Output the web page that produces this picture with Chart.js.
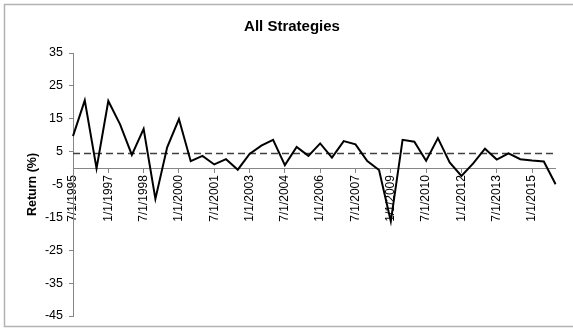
<!DOCTYPE html>
<html>
<head>
<meta charset="utf-8">
<script src="https://cdn.jsdelivr.net/npm/chart.js@4.4.1/dist/chart.umd.min.js"></script>
<style>
  html, body { margin: 0; padding: 0; background: #fff; }
  #wrap { position: relative; width: 573px; height: 333px; }
</style>
</head>
<body>
<div id="wrap"><canvas id="chart"></canvas></div>
<script>
// semi-annual observations, one label shown every 18 months
const dates = [
  '7/1/1995', '1/1/1996', '7/1/1996', '1/1/1997', '7/1/1997', '1/1/1998',
  '7/1/1998', '1/1/1999', '7/1/1999', '1/1/2000', '7/1/2000', '1/1/2001',
  '7/1/2001', '1/1/2002', '7/1/2002', '1/1/2003', '7/1/2003', '1/1/2004',
  '7/1/2004', '1/1/2005', '7/1/2005', '1/1/2006', '7/1/2006', '1/1/2007',
  '7/1/2007', '1/1/2008', '7/1/2008', '1/1/2009', '7/1/2009', '1/1/2010',
  '7/1/2010', '1/1/2011', '7/1/2011', '1/1/2012', '7/1/2012', '1/1/2013',
  '7/1/2013', '1/1/2014', '7/1/2014', '1/1/2015', '7/1/2015', '1/1/2016'
];
const returns = [
  9.7, 20.6, -0.1, 20.4, 13.3, 4.0, 11.9, -9.4, 6.3, 14.9, 2.1, 3.7,
  1.1, 2.7, -0.5, 4.3, 6.8, 8.6, 0.9, 6.4, 3.7, 7.5, 3.2, 8.2,
  7.2, 2.1, -0.6, -16.2, 8.6, 8.0, 2.2, 9.1, 1.7, -2.4, 1.4, 5.9,
  2.6, 4.5, 2.7, 2.3, 2.0, -4.9
];
const averageReturn = 4.45;
const yTicks = [-45, -35, -25, -15, -5, 5, 15, 25, 35];
const chartTitle = 'All Strategies';

const FONT = "'Liberation Sans', Arial, sans-serif";
const AXIS = '#868686';

// white background, outer frame and the chart heading
const frame = {
  id: 'frame',
  beforeDraw(chart) {
    const ctx = chart.ctx;
    ctx.save();
    ctx.fillStyle = '#fff';
    ctx.fillRect(0, 0, chart.width, chart.height);
    ctx.strokeStyle = '#b3b3b3';
    ctx.lineWidth = 1.5;
    ctx.strokeRect(4.5, 4.5, 600, 322);
    ctx.restore();
  },
  afterDraw(chart) {
    const ctx = chart.ctx;
    ctx.save();
    ctx.fillStyle = '#000';
    ctx.font = 'bold 15px ' + FONT;
    ctx.textAlign = 'center';
    ctx.textBaseline = 'middle';
    ctx.fillText(chartTitle, 292, 27);
    ctx.restore();
  }
};

new Chart(document.getElementById('chart'), {
  type: 'line',
  data: {
    labels: dates,
    datasets: [
      {
        label: 'Return',
        data: returns,
        borderColor: '#000',
        borderWidth: 2,
        pointRadius: 0,
        tension: 0,
        fill: false
      },
      {
        label: 'Average',
        data: dates.map(() => averageReturn),
        borderColor: '#404040',
        borderWidth: 1.5,
        borderDash: [7, 4],
        pointRadius: 0,
        fill: false
      }
    ]
  },
  options: {
    responsive: true,
    maintainAspectRatio: false,
    animation: false,
    layout: { padding: { top: 53, right: 11, bottom: 17, left: 0 } },
    plugins: {
      legend: { display: false },
      tooltip: { enabled: false },
      title: { display: false }
    },
    scales: {
      x: {
        type: 'category',
        position: { y: 0 },
        offset: false,
        grid: {
          drawOnChartArea: false,
          drawTicks: true,
          tickLength: 4,
          color: ctx => (ctx.index % 3 === 0 ? AXIS : 'rgba(0,0,0,0)')
        },
        border: { display: true, color: AXIS, width: 1 },
        ticks: {
          autoSkip: false,
          minRotation: 90,
          maxRotation: 90,
          padding: 3,
          color: '#000',
          font: { family: FONT, size: 12 },
          callback: (v, i) => (i % 3 === 0 ? dates[i] : '')
        }
      },
      y: {
        min: -45,
        max: 35,
        afterBuildTicks: s => { s.ticks = yTicks.map(v => ({ value: v })); },
        afterFit: s => { s.width = 73; },
        grid: { drawOnChartArea: false, tickLength: 4, color: AXIS },
        border: { display: true, color: AXIS, width: 1 },
        ticks: {
          padding: 6,
          color: '#000',
          font: { family: FONT, size: 12.5 }
        },
        title: {
          display: true,
          text: 'Return (%)',
          color: '#000',
          font: { family: FONT, size: 12.5, weight: 'bold' },
          padding: { top: 25, bottom: 0 }
        }
      }
    }
  },
  plugins: [frame]
});
</script>
</body>
</html>
